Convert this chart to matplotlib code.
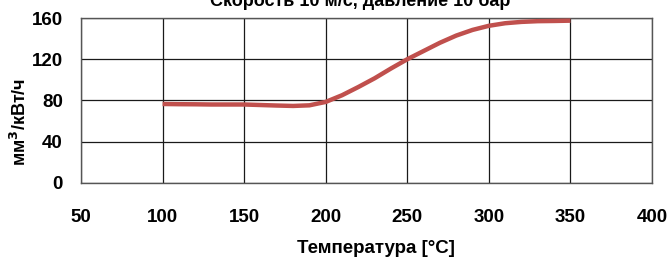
import matplotlib
matplotlib.use("Agg")
import matplotlib.pyplot as plt

# wear rate vs temperature
temps = [100, 110, 120, 130, 140, 150, 160, 170, 180, 190, 200, 210, 220, 230,
         240, 250, 260, 270, 280, 290, 300, 310, 320, 330, 340, 350]
wear = [76.5, 76.3, 76.2, 76.0, 76.0, 76.0, 75.5, 75.0, 74.6, 75.2, 78.5, 85.0,
        93.0, 101.5, 111.0, 120.0, 128.0, 136.0, 143.0, 148.5, 152.5, 155.0,
        156.3, 157.0, 157.2, 157.5]

x_ticks = [50, 100, 150, 200, 250, 300, 350, 400]
y_ticks = [0, 40, 80, 120, 160]

title = "Скорость 10 м/с, давление 10 бар"
x_label = "Температура [°C]"
y_label = "мм$^3$/кВт/ч"

plt.rcParams['font.family'] = ['Liberation Sans', 'DejaVu Sans']
plt.rcParams['font.weight'] = 'bold'

fig = plt.figure(figsize=(6.71, 2.58), dpi=100)
ax = fig.add_axes([0.1207, 0.2919, 0.851, 0.638])

ax.plot(temps, wear, color='#C0504D', lw=3.2, solid_capstyle='butt', zorder=3)

ax.set_xlim(50, 400)
ax.set_ylim(0, 160)
ax.set_xticks(x_ticks)
ax.set_yticks(y_ticks)
ax.grid(True, color='#1a1a1a', lw=0.9)
ax.set_axisbelow(True)
for s in ax.spines.values():
    s.set_color('#555555')
    s.set_linewidth(1.0)
ax.tick_params(axis='both', length=0, labelsize=13.5)
ax.tick_params(axis='x', pad=19)
ax.tick_params(axis='y', pad=13)

# title sits partly above the figure edge, as in the source
fig.text(0.537, 0.977, title, ha='center', va='baseline', fontsize=13, fontweight='bold')
fig.text(0.561, 0.02, x_label, ha='center', va='baseline', fontsize=13.5, fontweight='bold')
fig.text(0.03, 0.527, y_label, ha='center', va='center', rotation=90, fontsize=13, fontweight='bold')

fig.savefig("out.png", dpi=100)
